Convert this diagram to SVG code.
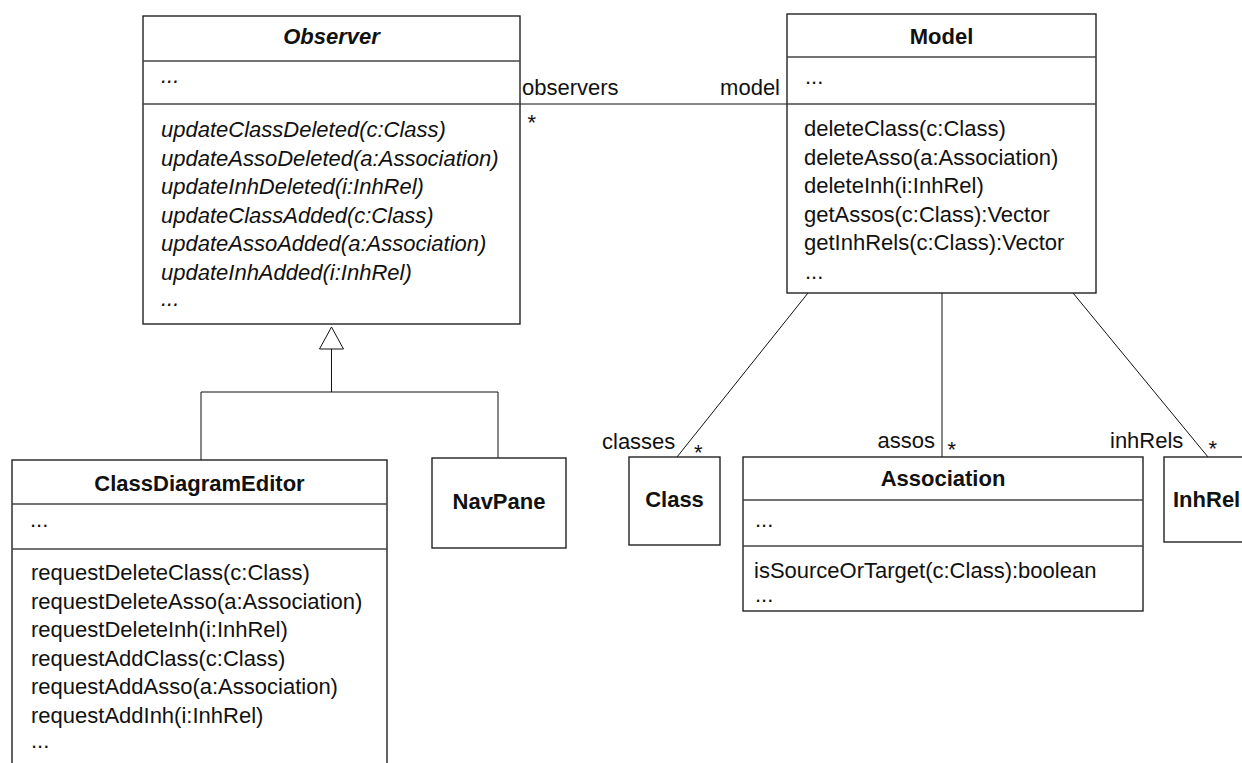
<svg xmlns="http://www.w3.org/2000/svg" width="1242" height="763" viewBox="0 0 1242 763">
<style>
text{font-family:"Liberation Sans",Arial,sans-serif;font-size:22px;fill:#111}
.t{font-weight:bold;text-anchor:middle}
.ti{font-weight:bold;font-style:italic;text-anchor:middle}
.i{font-style:italic}
.box{fill:#fff;stroke:#222;stroke-width:1.4}
.sep{stroke:#444;stroke-width:1.4}
.ln{stroke:#111;stroke-width:1;fill:none}
</style>
<rect width="1242" height="763" fill="#fff"/>
<g id="connectors">
<line class="ln" x1="520" y1="104" x2="787" y2="104"/>
<polyline class="ln" points="201,460 201,392 498,392 498,458"/>
<line class="ln" x1="331.5" y1="349" x2="331.5" y2="392"/>
<polygon points="331.5,327 343.5,349 319.5,349" fill="#fff" stroke="#111" stroke-width="1"/>
<line class="ln" x1="808" y1="293" x2="677" y2="457"/>
<line class="ln" x1="942" y1="293" x2="942" y2="457"/>
<line class="ln" x1="1073" y1="293" x2="1208" y2="457"/>
<text x="522" y="95">observers</text>
<text x="780" y="95" text-anchor="end">model</text>
<text x="527.5" y="129.5">*</text>
<text x="602" y="449">classes</text>
<text x="694" y="459.5">*</text>
<text x="935" y="448" text-anchor="end">assos</text>
<text x="947.5" y="456.5">*</text>
<text x="1110" y="448">inhRels</text>
<text x="1208.5" y="455.5">*</text>
</g>
<g id="observer">
<rect class="box" x="143" y="16" width="377" height="308"/>
<line class="sep" x1="143" y1="61" x2="520" y2="61"/>
<line class="sep" x1="143" y1="104" x2="520" y2="104"/>
<text class="ti" x="331.5" y="44">Observer</text>
<text class="i" x="161" y="83">...</text>
<text class="i" x="161" y="137">updateClassDeleted(c:Class)</text>
<text class="i" x="161" y="165.5">updateAssoDeleted(a:Association)</text>
<text class="i" x="161" y="194">updateInhDeleted(i:InhRel)</text>
<text class="i" x="161" y="222.5">updateClassAdded(c:Class)</text>
<text class="i" x="161" y="251">updateAssoAdded(a:Association)</text>
<text class="i" x="161" y="279.5">updateInhAdded(i:InhRel)</text>
<text class="i" x="161" y="305.5">...</text>
</g>
<g id="model">
<rect class="box" x="787" y="14" width="309" height="279"/>
<line class="sep" x1="787" y1="57" x2="1096" y2="57"/>
<line class="sep" x1="787" y1="104" x2="1096" y2="104"/>
<text class="t" x="941.5" y="44">Model</text>
<text x="805" y="84">...</text>
<text x="804" y="136">deleteClass(c:Class)</text>
<text x="804" y="164.5">deleteAsso(a:Association)</text>
<text x="804" y="193">deleteInh(i:InhRel)</text>
<text x="804" y="221.5">getAssos(c:Class):Vector</text>
<text x="804" y="250">getInhRels(c:Class):Vector</text>
<text x="805" y="279">...</text>
</g>
<g id="classDiagramEditor">
<rect class="box" x="12" y="460" width="375" height="330"/>
<line class="sep" x1="12" y1="504" x2="387" y2="504"/>
<line class="sep" x1="12" y1="549" x2="387" y2="549"/>
<text class="t" x="199.5" y="491">ClassDiagramEditor</text>
<text x="30" y="527">...</text>
<text x="31" y="580">requestDeleteClass(c:Class)</text>
<text x="31" y="608.5">requestDeleteAsso(a:Association)</text>
<text x="31" y="637">requestDeleteInh(i:InhRel)</text>
<text x="31" y="665.5">requestAddClass(c:Class)</text>
<text x="31" y="694">requestAddAsso(a:Association)</text>
<text x="31" y="722.5">requestAddInh(i:InhRel)</text>
<text x="31" y="748">...</text>
</g>
<g id="navPane">
<rect class="box" x="432" y="458" width="134" height="90"/>
<text class="t" x="499" y="509">NavPane</text>
</g>
<g id="class">
<rect class="box" x="629" y="457" width="91" height="88"/>
<text class="t" x="674.5" y="507">Class</text>
</g>
<g id="association">
<rect class="box" x="743" y="457" width="400" height="154"/>
<line class="sep" x1="743" y1="500" x2="1143" y2="500"/>
<line class="sep" x1="743" y1="546" x2="1143" y2="546"/>
<text class="t" x="943" y="486">Association</text>
<text x="755" y="527">...</text>
<text x="754" y="578">isSourceOrTarget(c:Class):boolean</text>
<text x="755" y="602">...</text>
</g>
<g id="inhRel">
<rect class="box" x="1164" y="457" width="100" height="85"/>
<text x="1173" y="507" font-weight="bold">InhRel</text>
</g>
</svg>
